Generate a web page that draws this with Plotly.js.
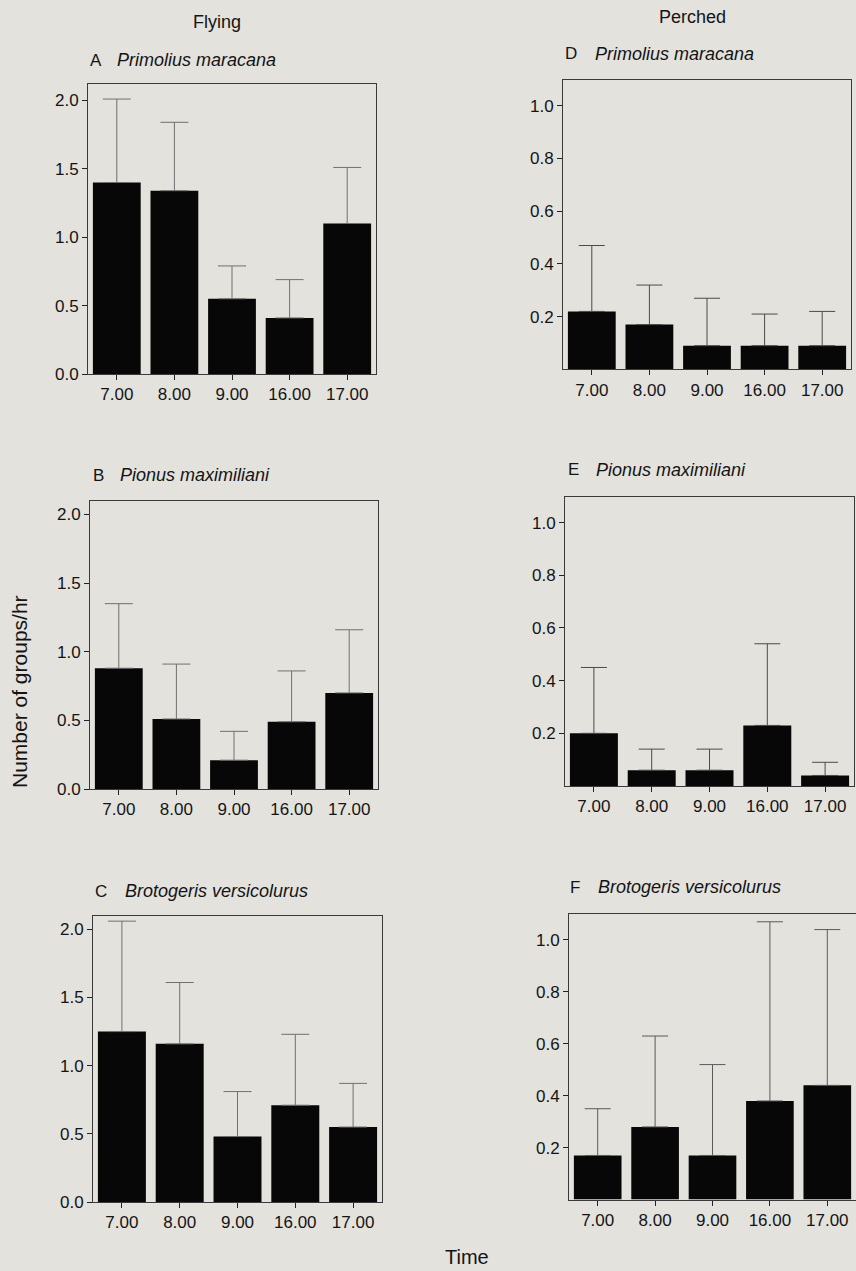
<!DOCTYPE html>
<html>
<head>
<meta charset="utf-8">
<script src="https://cdn.plot.ly/plotly-3.0.1.min.js"></script>
<style>
  html, body { margin: 0; padding: 0; background: #e3e2dd; }
  #chart { width: 856px; height: 1271px; }
</style>
</head>
<body>
<div id="chart"></div>
<script>
// ---------------- data ----------------
const times = ["7.00", "8.00", "9.00", "16.00", "17.00"];

const panelLetters = ["A", "B", "C", "D", "E", "F"];
const species = ["Primolius maracana", "Pionus maximiliani", "Brotogeris versicolurus",
                 "Primolius maracana", "Pionus maximiliani", "Brotogeris versicolurus"];
const columnTitles = ["Flying", "Perched"];

// Flying (groups/hr): mean and upper error (SD)
const flyingPrimoliusMean = [1.40, 1.34, 0.55, 0.41, 1.10];
const flyingPrimoliusErr  = [0.61, 0.50, 0.24, 0.28, 0.41];
const flyingPionusMean    = [0.88, 0.51, 0.21, 0.49, 0.70];
const flyingPionusErr     = [0.47, 0.40, 0.21, 0.37, 0.46];
const flyingBrotoMean     = [1.25, 1.16, 0.48, 0.71, 0.55];
const flyingBrotoErr      = [0.81, 0.45, 0.33, 0.52, 0.32];

// Perched (groups/hr)
const perchedPrimoliusMean = [0.22, 0.17, 0.09, 0.09, 0.09];
const perchedPrimoliusErr  = [0.25, 0.15, 0.18, 0.12, 0.13];
const perchedPionusMean    = [0.20, 0.06, 0.06, 0.23, 0.04];
const perchedPionusErr     = [0.25, 0.08, 0.08, 0.31, 0.05];
const perchedBrotoMean     = [0.17, 0.28, 0.17, 0.38, 0.44];
const perchedBrotoErr      = [0.18, 0.35, 0.35, 0.69, 0.60];

const flyingTicks  = [0, 0.5, 1.0, 1.5, 2.0];
const perchedTicks = [0.2, 0.4, 0.6, 0.8, 1.0];

const yTitle = "Number of groups/hr";
const xTitle = "Time";

// ---------------- layout helpers ----------------
const W = 856, H = 1271;
const fx = x => x / W;
const fy = y => (H - y) / H;

const panels = [
  {mean: flyingPrimoliusMean,  err: flyingPrimoliusErr,  x0: 88,  x1: 376, yb: 374,   yt: 84,    top: 2.12, ticks: flyingTicks,  cap: 14, ec: "#707070", lx: 88,  sx: 115, ty: 60},
  {mean: flyingPionusMean,     err: flyingPionusErr,     x0: 90,  x1: 378, yb: 789,   yt: 500.7, top: 2.10, ticks: flyingTicks,  cap: 14, ec: "#707070", lx: 90.7, sx: 118, ty: 475},
  {mean: flyingBrotoMean,      err: flyingBrotoErr,      x0: 93,  x1: 382, yb: 1202,  yt: 915.7, top: 2.10, ticks: flyingTicks,  cap: 14, ec: "#707070", lx: 93,  sx: 123, ty: 891},
  {mean: perchedPrimoliusMean, err: perchedPrimoliusErr, x0: 563, x1: 851, yb: 369.4, yt: 80,    top: 1.098, ticks: perchedTicks, cap: 13, ec: "#4a4a4a", lx: 563, sx: 593, ty: 54},
  {mean: perchedPionusMean,    err: perchedPionusErr,    x0: 565, x1: 854, yb: 786,   yt: 497.3, top: 1.096, ticks: perchedTicks, cap: 13, ec: "#4a4a4a", lx: 566, sx: 594, ty: 470},
  {mean: perchedBrotoMean,     err: perchedBrotoErr,     x0: 569, x1: 856, yb: 1199.6, yt: 914,  top: 1.10, ticks: perchedTicks, cap: 13, ec: "#5a5a5a", lx: 568, sx: 596, ty: 887}
];

const FONT = "Liberation Sans, Arial, Helvetica, sans-serif";
const INK = "#141414";
const traces = [];
const layout = {
  width: W, height: H,
  margin: {l: 0, r: 0, t: 0, b: 0},
  paper_bgcolor: "#e3e2dd",
  plot_bgcolor: "#e3e2dd",
  showlegend: false,
  bargap: 0.17,
  font: {family: FONT, size: 16, color: INK},
  annotations: []
};

panels.forEach((p, i) => {
  const n = i + 1;
  const xa = n === 1 ? "x" : "x" + n;
  const ya = n === 1 ? "y" : "y" + n;
  traces.push({
    type: "bar",
    x: times,
    y: p.mean,
    xaxis: xa, yaxis: ya,
    marker: {color: "#070707", line: {width: 0}},
    error_y: {
      type: "data", symmetric: false,
      array: p.err, arrayminus: p.mean.map(() => 0),
      color: p.ec, thickness: 1, width: p.cap
    },
    hoverinfo: "none"
  });
  layout["xaxis" + (n === 1 ? "" : n)] = {
    domain: [fx(p.x0), fx(p.x1)],
    anchor: ya,
    type: "category",
    range: [-0.5, 4.5],
    showline: true, mirror: true, linecolor: "#3a3a3a", linewidth: 1,
    ticks: "outside", ticklen: 5, tickcolor: "#222", tickwidth: 1,
    showgrid: false, zeroline: false,
    tickfont: {family: FONT, size: 17, color: INK},
    fixedrange: true
  };
  layout["yaxis" + (n === 1 ? "" : n)] = {
    domain: [fy(p.yb), fy(p.yt)],
    anchor: xa,
    range: [0, p.top],
    tickvals: p.ticks,
    ticktext: p.ticks.map(v => v.toFixed(1)),
    showline: true, mirror: true, linecolor: "#3a3a3a", linewidth: 1,
    ticks: "outside", ticklen: 5, tickcolor: "#222", tickwidth: 1,
    showgrid: false, zeroline: false,
    tickfont: {family: FONT, size: 17, color: INK},
    fixedrange: true
  };
  layout.annotations.push({
    xref: "paper", yref: "paper", x: fx(p.lx), y: fy(p.ty),
    xanchor: "left", yanchor: "middle", showarrow: false,
    text: panelLetters[i], font: {family: FONT, size: 17, color: INK}
  });
  layout.annotations.push({
    xref: "paper", yref: "paper", x: fx(p.sx), y: fy(p.ty),
    xanchor: "left", yanchor: "middle", showarrow: false,
    text: "<i>" + species[i] + "</i>", font: {family: FONT, size: 18, color: INK}
  });
});

layout.annotations.push(
  {xref: "paper", yref: "paper", x: fx(217), y: fy(22), xanchor: "center", yanchor: "middle",
   showarrow: false, text: columnTitles[0], font: {family: FONT, size: 18, color: INK}},
  {xref: "paper", yref: "paper", x: fx(692), y: fy(17), xanchor: "center", yanchor: "middle",
   showarrow: false, text: columnTitles[1], font: {family: FONT, size: 18, color: INK}},
  {xref: "paper", yref: "paper", x: fx(19), y: fy(692), xanchor: "center", yanchor: "middle",
   showarrow: false, textangle: -90, text: yTitle, font: {family: FONT, size: 21, color: INK}},
  {xref: "paper", yref: "paper", x: fx(467), y: fy(1257), xanchor: "center", yanchor: "middle",
   showarrow: false, text: xTitle, font: {family: FONT, size: 20, color: INK}}
);

Plotly.newPlot("chart", traces, layout, {staticPlot: true, displayModeBar: false});
</script>
</body>
</html>
